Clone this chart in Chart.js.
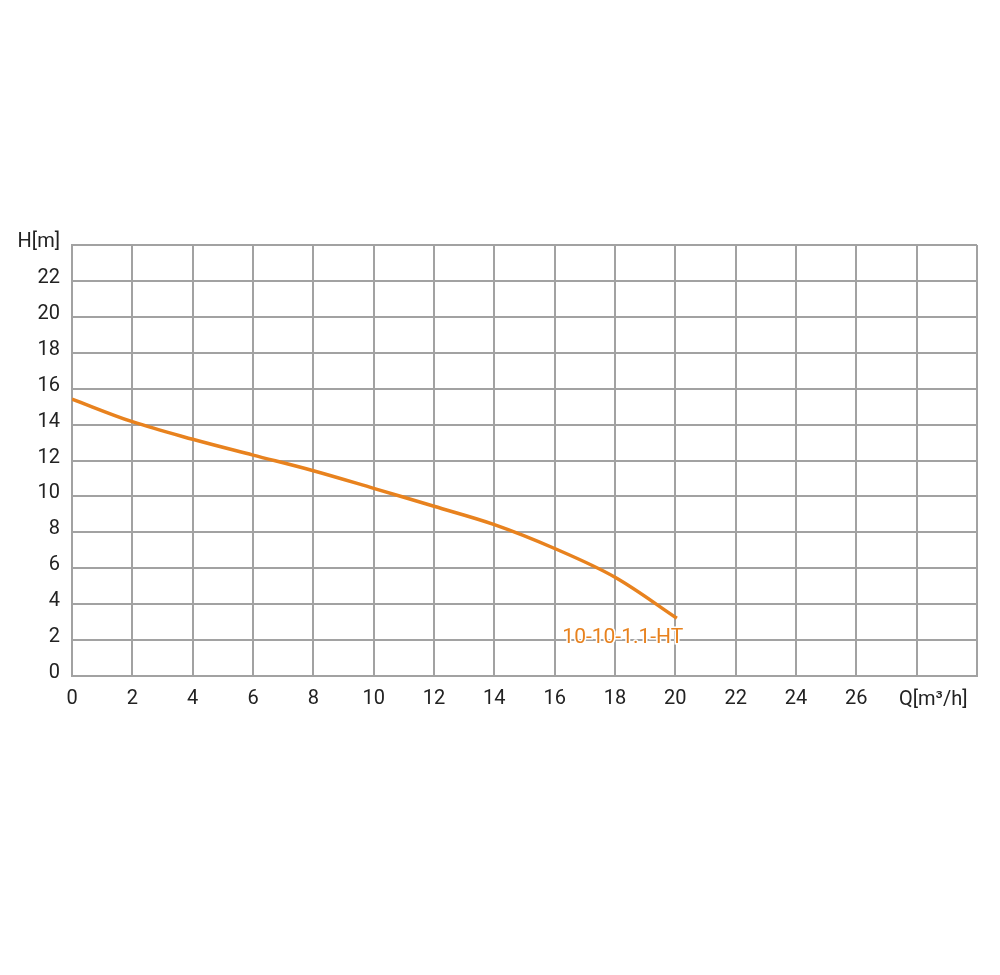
<!DOCTYPE html>
<html>
<head>
<meta charset="utf-8">
<script src="https://cdn.jsdelivr.net/npm/chart.js@4/dist/chart.umd.min.js"></script>
<style>
html,body{margin:0;padding:0;background:#fff;}
#c{display:block;}
</style>
</head>
<body>
<canvas id="c" width="1000" height="975"></canvas>
<script>
const flowQ = [0, 2, 4, 6, 8, 10, 12, 14, 16, 18, 20.05];
const headH = [15.42, 14.16, 13.18, 12.3, 11.43, 10.45, 9.45, 8.43, 7.1, 5.5, 3.22];
const seriesName = '10-10-1.1-HT';
const xTickLabels = ['0','2','4','6','8','10','12','14','16','18','20','22','24','26','',''];
const yTickLabels = ['0','2','4','6','8','10','12','14','16','18','20','22','H[m]'];
const xAxisTitle = 'Q[m³/h]';

const ORANGE = '#E8821E';
const GRID = '#a2a2a2';
const FONT = 'Roboto, "Liberation Sans", sans-serif';

const labelsPlugin = {
  id: 'extraLabels',
  afterDraw(chart) {
    const ctx = chart.ctx;
    const xs = chart.scales.x, ys = chart.scales.y;
    ctx.save();
    ctx.font = '21px ' + FONT;
    ctx.textAlign = 'center';
    ctx.textBaseline = 'middle';
    const lx = xs.getPixelForValue(18.26), ly = ys.getPixelForValue(2.15);
    ctx.lineWidth = 3;
    ctx.strokeStyle = '#fff';
    ctx.strokeText(seriesName, lx, ly);
    ctx.fillStyle = ORANGE;
    ctx.fillText(seriesName, lx, ly);
    ctx.fillStyle = '#222';
    ctx.font = '20px ' + FONT;
    ctx.fillText(xAxisTitle, xs.getPixelForValue(28.55), ys.bottom + 24);
    ctx.restore();
  }
};

new Chart(document.getElementById('c'), {
  type: 'line',
  data: {
    datasets: [{
      label: seriesName,
      data: flowQ.map((q, i) => ({x: q, y: headH[i]})),
      borderColor: ORANGE,
      borderWidth: 3.5,
      pointRadius: 0,
      tension: 0.35,
      fill: false
    }]
  },
  options: {
    responsive: false,
    animation: false,
    layout: {padding: {top: 245, left: 0, right: 23, bottom: 0}},
    plugins: {legend: {display: false}, tooltip: {enabled: false}},
    scales: {
      x: {
        type: 'linear', min: 0, max: 30,
        afterFit(s) { s.height = 975 - 676; },
        afterBuildTicks(s) { s.ticks = xTickLabels.map((_, i) => ({value: i * 2})); },
        grid: {color: GRID, lineWidth: 2, drawTicks: false},
        border: {color: GRID, width: 2},
        ticks: {
          padding: 11,
          color: '#222',
          font: {family: FONT, size: 20},
          maxRotation: 0,
          autoSkip: false,
          callback: (v) => xTickLabels[Math.round(v / 2)] ?? ''
        }
      },
      y: {
        type: 'linear', min: 0, max: 24,
        afterFit(s) { s.width = 72; },
        afterBuildTicks(s) { s.ticks = yTickLabels.map((_, i) => ({value: i * 2})); },
        grid: {color: GRID, lineWidth: 2, drawTicks: false},
        border: {color: GRID, width: 2},
        ticks: {
          padding: 12,
          labelOffset: -3,
          color: '#222',
          font: {family: FONT, size: 20},
          autoSkip: false,
          callback: (v) => yTickLabels[Math.round(v / 2)] ?? ''
        }
      }
    }
  },
  plugins: [labelsPlugin]
});
</script>
</body>
</html>
